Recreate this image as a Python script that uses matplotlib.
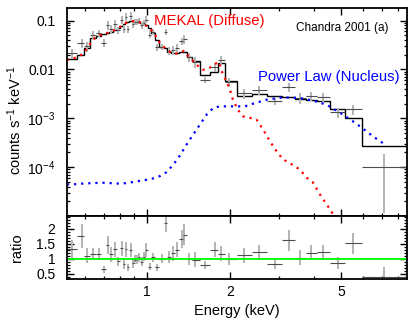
import numpy as np
import matplotlib
matplotlib.use("Agg")
from matplotlib import pyplot as plt
from matplotlib.ticker import FixedLocator, NullFormatter, FixedFormatter, MultipleLocator, LogLocator

plt.rcParams['font.family'] = ['Liberation Sans', 'DejaVu Sans']
plt.rcParams['mathtext.fontset'] = 'custom'
plt.rcParams['mathtext.rm'] = 'Liberation Sans'
plt.rcParams['mathtext.it'] = 'Liberation Sans:italic'

# bin edges (keV)
edges = [0.500, 0.561, 0.597, 0.627, 0.657, 0.688, 0.714, 0.734, 0.756, 0.780,
         0.802, 0.821, 0.835, 0.849, 0.867, 0.887, 0.903, 0.917, 0.932, 0.950,
         0.967, 0.984, 1.008, 1.038, 1.069, 1.109, 1.151, 1.188, 1.226, 1.268,
         1.313, 1.352, 1.396, 1.459, 1.555, 1.690, 1.804, 1.914, 2.113, 2.390,
         2.713, 3.073, 3.408, 3.736, 4.109, 4.580, 5.190, 5.934, 8.85]
# data point energies
E = [0.538, 0.584, 0.611, 0.643, 0.672, 0.704, 0.724, 0.744, 0.769, 0.790,
     0.813, 0.829, 0.842, 0.856, 0.878, 0.895, 0.910, 0.923, 0.941, 0.959,
     0.975, 0.992, 1.025, 1.051, 1.086, 1.132, 1.170, 1.206, 1.247, 1.291,
     1.336, 1.368, 1.426, 1.492, 1.621, 1.761, 1.846, 1.986, 2.248, 2.541,
     2.894, 3.259, 3.560, 3.915, 4.307, 4.865, 5.537, 7.14]
# folded model (counts s-1 keV-1)
model = [0.0163, 0.01995, 0.0277, 0.0444, 0.0487, 0.0535, 0.0561, 0.0588, 0.0646, 0.0693,
         0.0780, 0.0837, 0.0919, 0.0954, 0.0986, 0.0995, 0.0986, 0.0963, 0.0941, 0.0898,
         0.0856, 0.0817, 0.0710, 0.0561, 0.0404, 0.0295, 0.0273, 0.0230, 0.0216, 0.0216,
         0.0230, 0.0233, 0.0182, 0.0146, 0.0078, 0.00869, 0.01352, 0.00569, 0.00291, 0.00315,
         0.00281, 0.00268, 0.00252, 0.00241, 0.00230, 0.00158, 0.00102, 0.000277]
# data
data = [0.0214, 0.0351, 0.0302, 0.0511, 0.0560, 0.0348, 0.0819, 0.0676, 0.0846, 0.0638,
        0.1053, 0.0678, 0.1204, 0.0677, 0.1272, 0.0846, 0.0947, 0.0944, 0.0988, 0.0808,
        0.0916, 0.1054, 0.0518, 0.0589, 0.0287, 0.0292, 0.0595, 0.0242, 0.0255, 0.0279,
        0.0382, 0.0419, 0.0180, 0.0142, 0.00616, 0.0112, 0.0158, 0.00558, 0.00323, 0.00381,
        0.00230, 0.00434, 0.00260, 0.00287, 0.00278, 0.00134, 0.00154, 0.000100]
ratio = [1.31, 1.76, 1.09, 1.15, 1.15, 0.65, 1.46, 1.15, 1.31, 0.92,
         1.35, 0.81, 1.31, 0.71, 1.29, 0.85, 0.96, 0.98, 1.05, 0.90,
         1.07, 1.29, 0.73, 1.05, 0.71, 0.99, 2.18, 1.05, 1.18, 1.29,
         1.66, 1.80, 0.99, 0.97, 0.79, 1.29, 1.17, 0.98, 1.11, 1.21,
         0.82, 1.62, 1.03, 1.19, 1.21, 0.85, 1.51, 0.40]
ratio_err = [0.30, 0.40, 0.25, 0.20, 0.20, 0.12, 0.30, 0.25, 0.25, 0.15,
             0.25, 0.15, 0.25, 0.12, 0.22, 0.15, 0.15, 0.15, 0.15, 0.15,
             0.15, 0.22, 0.12, 0.15, 0.12, 0.15, 0.30, 0.20, 0.25, 0.25,
             0.30, 0.35, 0.20, 0.25, 0.12, 0.25, 0.25, 0.20, 0.25, 0.25,
             0.15, 0.35, 0.25, 0.25, 0.25, 0.20, 0.35, 0.32]

# MEKAL component (diffuse)
mekal_E = [0.516, 0.538, 0.566, 0.590, 0.610, 0.630, 0.652, 0.679, 0.708, 0.738,
           0.769, 0.802, 0.835, 0.871, 0.908, 0.946, 0.986, 1.028, 1.071, 1.116,
           1.164, 1.213, 1.264, 1.318, 1.362, 1.408, 1.467, 1.529, 1.594, 1.662,
           1.732, 1.790, 1.820, 1.866, 1.940, 1.994, 2.044, 2.130, 2.221, 2.353,
           2.487, 2.556, 2.664, 2.777, 2.935, 3.093, 3.250, 3.416, 3.561, 3.764,
           3.965, 4.202, 4.442, 4.692, 4.878]
mekal_F = [0.01578, 0.01653, 0.01816, 0.02091, 0.02644, 0.03506, 0.04435, 0.04989, 0.05352, 0.05879,
           0.06460, 0.07437, 0.08769, 0.09631, 0.09860, 0.09190, 0.08170, 0.06930, 0.05107, 0.03506,
           0.02773, 0.02298, 0.02091, 0.02192, 0.02407, 0.01903, 0.01505, 0.01190, 0.00986, 0.01033,
           0.01190, 0.01370, 0.01436, 0.00898, 0.00569, 0.00385, 0.00241, 0.00150, 0.00110, 0.00102,
           0.000941, 0.000744, 0.000511, 0.000339, 0.000212, 0.000144, 0.000125, 0.000103, 8.98e-5, 6.08e-5,
           4.87e-5, 2.77e-5, 1.73e-5, 1.08e-5, 6.8e-6]
# absorbed power law (nucleus)
pl_E = [0.517, 0.538, 0.600, 0.698, 0.813, 0.908, 1.000, 1.056, 1.116, 1.180,
        1.247, 1.318, 1.393, 1.471, 1.555, 1.644, 1.736, 1.835, 1.994, 2.258,
        2.418, 2.702, 3.100, 3.560, 3.975, 4.442, 4.758, 5.083, 5.523, 6.000,
        6.517, 7.198]
pl_F = [4.43e-5, 4.43e-5, 4.65e-5, 4.80e-5, 4.58e-5, 5.04e-5, 5.53e-5, 5.88e-5, 6.55e-5, 7.91e-5,
        1.12e-4, 1.73e-4, 2.91e-4, 4.65e-4, 7.44e-4, 1.19e-3, 1.63e-3, 1.76e-3, 1.76e-3, 1.76e-3,
        2.00e-3, 2.41e-3, 2.68e-3, 2.61e-3, 2.30e-3, 1.90e-3, 1.50e-3, 1.19e-3, 8.69e-4, 6.16e-4,
        4.29e-4, 2.91e-4]

E = np.array(E)
ed = np.array(edges)
xerr = [E - ed[:-1], ed[1:] - E]
yerr = np.array(model) * np.array(ratio_err)

fig = plt.figure(figsize=(4.16, 3.24), dpi=100)
ax1 = fig.add_axes([0.1603, 0.3333, 0.818, 0.642])
ax2 = fig.add_axes([0.1603, 0.1389, 0.818, 0.1944], sharex=ax1)

dots = (0, (1, 2.2))

# top panel
ax1.errorbar(E, data, yerr=yerr, fmt='none', ecolor='0.7', elinewidth=1.4)
ax1.errorbar(E, data, xerr=xerr, fmt='none', ecolor='0.3', elinewidth=0.8)
ax1.stairs(model, edges, color='k', lw=1.0, baseline=None)
ax1.plot(mekal_E, mekal_F, color='#ff0000', lw=1.6, ls=dots)
ax1.plot(pl_E, pl_F, color='#0000ff', lw=1.6, ls=dots)

ax1.set_xscale('log')
ax1.set_yscale('log')
ax1.set_xlim(0.516, 8.64)
ax1.set_ylim(1e-5, 0.1815)
ax1.yaxis.set_major_locator(FixedLocator([1e-4, 1e-3, 1e-2, 0.1]))
ax1.yaxis.set_major_formatter(FixedFormatter(['$10^{-4}$', '$10^{-3}$', '0.01', '0.1']))
ax1.yaxis.set_minor_locator(LogLocator(base=10, subs=np.arange(2, 10)))
ax1.yaxis.set_minor_formatter(NullFormatter())
ax1.set_ylabel('counts s$^{-1}$ keV$^{-1}$', fontsize=10.5)
ax1.yaxis.set_label_coords(-0.125, 0.46)

ax1.text(0.2565, 0.9375, 'MEKAL (Diffuse)', color='#ff0000', fontsize=10.7,
         transform=ax1.transAxes, ha='left', va='center')
ax1.text(0.562, 0.670, 'Power Law (Nucleus)', color='#0000ff', fontsize=10.7,
         transform=ax1.transAxes, ha='left', va='center')
ax1.text(0.674, 0.902, 'Chandra 2001 (a)', color='k', fontsize=8.5,
         transform=ax1.transAxes, ha='left', va='center')

# ratio panel
ax2.errorbar(E, ratio, yerr=ratio_err, fmt='none', ecolor='0.7', elinewidth=1.4)
ax2.errorbar(E, ratio, xerr=xerr, fmt='none', ecolor='0.3', elinewidth=0.8)
ax2.axhline(1.0, color='#00ff00', lw=1.3)
ax2.set_ylim(0.323, 2.423)
ax2.yaxis.set_major_locator(FixedLocator([0.5, 1, 1.5, 2]))
ax2.yaxis.set_major_formatter(FixedFormatter(['0.5', '1', '1.5', '2']))
ax2.yaxis.set_minor_locator(MultipleLocator(0.1))
ax2.set_ylabel('ratio', fontsize=10.5)
ax2.yaxis.set_label_coords(-0.125, 0.5)

ax2.xaxis.set_major_locator(FixedLocator([1, 2, 5]))
ax2.xaxis.set_major_formatter(FixedFormatter(['1', '2', '5']))
ax2.xaxis.set_minor_locator(FixedLocator([0.6, 0.7, 0.8, 0.9, 3, 4, 6, 7, 8]))
ax2.xaxis.set_minor_formatter(NullFormatter())
ax2.set_xlabel('Energy (keV)', fontsize=10.5)

for ax in (ax1, ax2):
    for s in ax.spines.values():
        s.set_linewidth(1.3)
    ax.tick_params(which='both', direction='in', top=True, right=True, labelsize=10)
    ax.tick_params(which='major', length=5, width=1.0)
    ax.tick_params(which='minor', length=2.5, width=0.9)
    ax.tick_params(axis='y', which='both', pad=8)
    ax.tick_params(axis='x', which='both', pad=4)
plt.setp(ax1.get_xticklabels(), visible=False)

fig.savefig('out.png', dpi=100)
